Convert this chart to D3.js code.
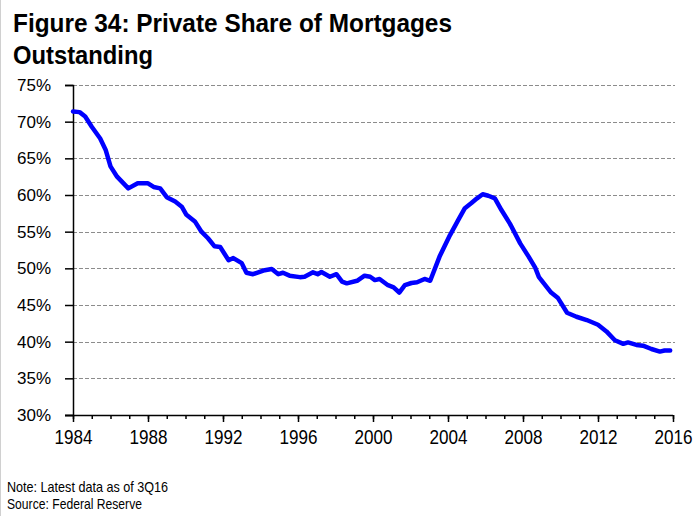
<!DOCTYPE html>
<html>
<head>
<meta charset="utf-8">
<script src="https://cdn.jsdelivr.net/npm/d3@7"></script>
<style>
  body { margin: 0; background: #fff; }
  svg { display: block; }
  text { font-family: "Liberation Sans", Arial, Helvetica, sans-serif; }
</style>
</head>
<body>
<div id="chart"></div>
<script>
const width = 700
const height = 516
const margin = {top: 85, right: 27, bottom: 101, left: 73}

// quarterly-ish readings, year as decimal
const years = [
  1984.00, 1984.35, 1984.65, 1985.00, 1985.45, 1985.75, 1986.00, 1986.35, 1986.95, 1987.45,
  1988.00, 1988.30, 1988.65, 1989.00, 1989.45, 1989.80, 1990.05, 1990.50, 1990.85, 1991.20,
  1991.55, 1991.85, 1992.30, 1992.55, 1993.00, 1993.25, 1993.60, 1994.15, 1994.60, 1994.95,
  1995.20, 1995.55, 1996.10, 1996.35, 1996.80, 1997.05, 1997.25, 1997.70, 1998.05, 1998.35,
  1998.60, 1999.15, 1999.55, 1999.85, 2000.10, 2000.35, 2000.80, 2001.10, 2001.40, 2001.70,
  2002.05, 2002.35, 2002.75, 2003.05, 2003.55, 2004.10, 2004.55, 2004.90, 2005.25, 2005.55,
  2005.85, 2006.15, 2006.50, 2006.85, 2007.30, 2007.85, 2008.30, 2008.65, 2008.85, 2009.50,
  2009.85, 2010.35, 2010.85, 2011.40, 2012.00, 2012.45, 2012.90, 2013.35, 2013.60, 2014.05,
  2014.40, 2014.85, 2015.30, 2015.55, 2015.85
]
const privateShare = [
  71.4, 71.3, 70.7, 69.3, 67.7, 66.1, 63.9, 62.5, 60.9, 61.6,
  61.6, 61.1, 60.9, 59.7, 59.1, 58.4, 57.3, 56.4, 55.0, 54.1,
  53.0, 52.9, 51.1, 51.4, 50.7, 49.4, 49.2, 49.7, 49.9, 49.2,
  49.4, 49.0, 48.8, 48.85, 49.45, 49.2, 49.5, 48.85, 49.2, 48.2,
  47.95, 48.3, 49.0, 48.85, 48.4, 48.55, 47.7, 47.4, 46.7, 47.7,
  48.0, 48.1, 48.55, 48.3, 51.6, 54.5, 56.6, 58.2, 58.9, 59.55,
  60.1, 59.9, 59.55, 57.95, 56.1, 53.4, 51.6, 50.1, 48.8, 46.7,
  46.0, 43.95, 43.4, 42.95, 42.3, 41.4, 40.2, 39.7, 39.9, 39.55,
  39.45, 39.0, 38.65, 38.8, 38.8
]
const yTicks = [30, 35, 40, 45, 50, 55, 60, 65, 70, 75]
const xTicks = [1984, 1988, 1992, 1996, 2000, 2004, 2008, 2012, 2016]
const xMinorTicks = d3.range(1984, 2017)

const data = years.map((yr, i) => ({year: yr, value: privateShare[i]}))

const svg = d3.select("div#chart").append("svg").attr("width", width).attr("height", height)

// light frame on the left edge
svg.append("line").attr("x1", 0.5).attr("x2", 0.5).attr("y1", 0).attr("y2", height)
    .attr("stroke", "#d0d0d0")

const x = d3.scaleLinear().domain([1984, 2016]).range([margin.left, width - margin.right])
const y = d3.scaleLinear().domain([30, 75]).range([height - margin.bottom, margin.top])

// title, condensed by squeezing the glyphs
const title = svg.append("text")
    .attr("font-weight", "bold").attr("font-size", 26).attr("fill", "#000")
title.append("tspan").attr("x", 13).attr("y", 32)
    .attr("textLength", 439).attr("lengthAdjust", "spacingAndGlyphs")
    .text("Figure 34: Private Share of Mortgages")
title.append("tspan").attr("x", 13).attr("y", 64)
    .attr("textLength", 140).attr("lengthAdjust", "spacingAndGlyphs")
    .text("Outstanding")

// gridlines
svg.append("g").selectAll("line").data(yTicks.filter(d => d > 30)).enter()
    .append("line")
    .attr("x1", margin.left).attr("x2", width - margin.right + 2)
    .attr("y1", d => Math.round(y(d)) + 0.5).attr("y2", d => Math.round(y(d)) + 0.5)
    .attr("stroke", "#8c8c8c").attr("stroke-width", 1).attr("stroke-dasharray", "4,2")

// y axis
const yAxisGroup = svg.append("g").attr("transform", `translate(${margin.left},0)`)
    .call(d3.axisLeft(y).tickValues(yTicks).tickSize(8).tickPadding(14).tickFormat(d => d + "%"))
yAxisGroup.select(".domain").attr("stroke", "#000").attr("stroke-width", 1.5)
yAxisGroup.selectAll(".tick line").attr("stroke", "#000").attr("stroke-width", 1.5)
yAxisGroup.selectAll("text").attr("font-size", 17).attr("fill", "#000")
    .attr("font-family", "Liberation Sans, Arial, sans-serif")
    .attr("textLength", 34).attr("lengthAdjust", "spacingAndGlyphs")

// x axis minor ticks
const xMinorGroup = svg.append("g").attr("transform", `translate(0,${height - margin.bottom})`)
    .call(d3.axisBottom(x).tickValues(xMinorTicks).tickSize(4).tickFormat(""))
xMinorGroup.select(".domain").remove()
xMinorGroup.selectAll(".tick line").attr("stroke", "#000").attr("stroke-width", 1.5)

// x axis major ticks + labels
const xAxisGroup = svg.append("g").attr("transform", `translate(0,${height - margin.bottom})`)
    .call(d3.axisBottom(x).tickValues(xTicks).tickSize(7).tickPadding(8).tickFormat(d3.format("d")))
xAxisGroup.select(".domain").attr("d", `M${margin.left - 8},0.5H${width - margin.right}`)
    .attr("stroke", "#000").attr("stroke-width", 1.5)
xAxisGroup.selectAll(".tick line").attr("stroke", "#000").attr("stroke-width", 1.5)
xAxisGroup.selectAll("text").attr("font-size", 19.5).attr("fill", "#000")
    .attr("font-family", "Liberation Sans, Arial, sans-serif")
    .attr("textLength", 38).attr("lengthAdjust", "spacingAndGlyphs")

// the series
svg.append("path").datum(data)
    .attr("fill", "none").attr("stroke", "#0000ff").attr("stroke-width", 4.5)
    .attr("stroke-linejoin", "round").attr("stroke-linecap", "round")
    .attr("d", d3.line().x(d => x(d.year)).y(d => y(d.value)))

// footnotes
svg.append("text").attr("x", 7).attr("y", 492)
    .attr("font-size", 15).attr("fill", "#000")
    .attr("textLength", 161).attr("lengthAdjust", "spacingAndGlyphs")
    .text("Note: Latest data as of 3Q16")
svg.append("text").attr("x", 7).attr("y", 509)
    .attr("font-size", 15).attr("fill", "#000")
    .attr("textLength", 135).attr("lengthAdjust", "spacingAndGlyphs")
    .text("Source: Federal Reserve")
</script>
</body>
</html>
